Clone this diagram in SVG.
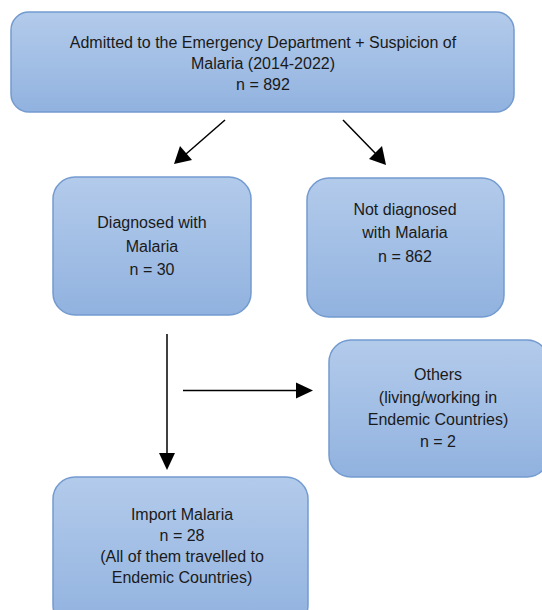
<svg xmlns="http://www.w3.org/2000/svg" width="542" height="610" viewBox="0 0 542 610">
<defs>
<linearGradient id="g" x1="0" y1="0" x2="0" y2="1">
<stop offset="0" stop-color="#b3cbeb"/>
<stop offset="1" stop-color="#91b2df"/>
</linearGradient>
<style>
.box{fill:url(#g);stroke:#739bd0;stroke-width:1.5}
.t{font-family:"Liberation Sans",Arial,sans-serif;font-size:16px;fill:#1a1a1a;text-anchor:middle}
.c{stroke:#000;stroke-width:1.5;fill:none}
.h{fill:#000}
</style>
</defs>
<rect width="542" height="610" fill="#fff"/>
<g id="n1">
<rect class="box" x="11" y="12" width="503" height="100" rx="18"/>
<text class="t" x="263" y="48">Admitted to the Emergency Department + Suspicion of</text>
<text class="t" x="263" y="69">Malaria (2014-2022)</text>
<text class="t" x="263" y="90">n = 892</text>
</g>
<g id="n2">
<rect class="box" x="53" y="177" width="198" height="138" rx="22"/>
<text class="t" x="152" y="228">Diagnosed with</text>
<text class="t" x="152" y="252">Malaria</text>
<text class="t" x="152" y="275">n = 30</text>
</g>
<g id="n3">
<rect class="box" x="307" y="178" width="197" height="139" rx="22"/>
<text class="t" x="405" y="215">Not diagnosed</text>
<text class="t" x="405" y="238">with Malaria</text>
<text class="t" x="405" y="262">n = 862</text>
</g>
<g id="n4">
<rect class="box" x="329" y="340" width="220" height="137" rx="22"/>
<text class="t" x="438" y="380">Others</text>
<text class="t" x="438" y="403">(living/working in</text>
<text class="t" x="438" y="425">Endemic Countries)</text>
<text class="t" x="438" y="447">n = 2</text>
</g>
<g id="n5">
<rect class="box" x="53" y="477" width="255" height="150" rx="22"/>
<text class="t" x="182" y="520">Import Malaria</text>
<text class="t" x="182" y="541">n = 28</text>
<text class="t" x="182" y="562">(All of them travelled to</text>
<text class="t" x="182" y="583">Endemic Countries)</text>
</g>
<g id="connectors">
<line class="c" x1="225" y1="120" x2="186" y2="154"/>
<path class="h" d="M174,164 L180,146 L192,160 Z"/>
<line class="c" x1="343" y1="120" x2="376" y2="154"/>
<path class="h" d="M386,165 L369,159 L382,146 Z"/>
<line class="c" x1="167" y1="334" x2="167" y2="455"/>
<path class="h" d="M167,470 L159,453 L175,453 Z"/>
<line class="c" x1="183" y1="390.5" x2="298" y2="390.5"/>
<path class="h" d="M313,390.5 L296,382.5 L296,398.5 Z"/>
</g>
</svg>
